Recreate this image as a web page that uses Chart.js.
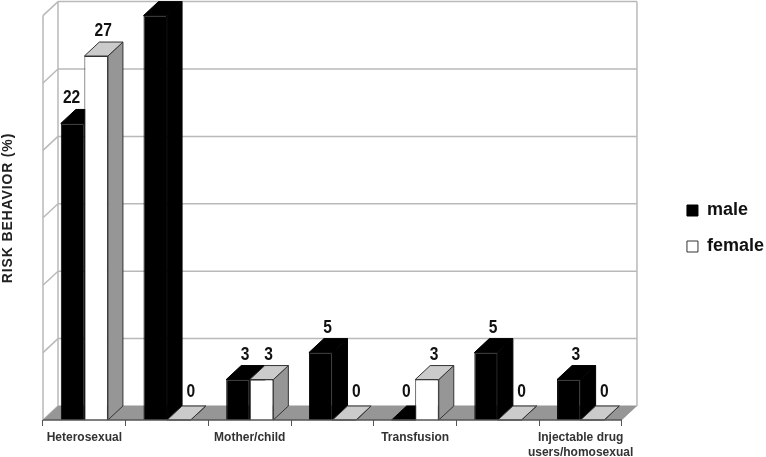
<!DOCTYPE html>
<html>
<head>
<meta charset="utf-8">
<title>Risk behavior</title>
<script src="https://cdn.jsdelivr.net/npm/chart.js@4/dist/chart.umd.min.js"></script>
<style>
  html, body { margin: 0; padding: 0; background: #fff; }
  canvas { display: block; }
</style>
</head>
<body>
<canvas id="myChart" width="766" height="457"></canvas>
<script>
// Values
var categories = ['Heterosexual', '', 'Mother/child', '', 'Transfusion', '', ['Injectable drug', 'users/homosexual']];
var male = [22, 30, 3, 5, 0, 5, 3];
var female = [27, 0, 3, 0, 3, 0, 0];
var yTicks = [0, 5, 10, 15, 20, 25, 30];
var yTitle = 'RISK BEHAVIOR (%)';

// Depth of the fake 3D box
var depthX = 15;
var depthY = 14;
var textFont = '"Liberation Sans", Arial, sans-serif';
var lineGrey = '#b9b9b9';
var sideGrey = '#969696';
var topGrey = '#cbcbcb';

function poly(ctx, pts, fill, stroke) {
    ctx.beginPath();
    ctx.moveTo(pts[0][0], pts[0][1]);
    for (var i = 1; i < pts.length; i++) ctx.lineTo(pts[i][0], pts[i][1]);
    ctx.closePath();
    ctx.fillStyle = fill;
    ctx.fill();
    if (stroke) {
        ctx.strokeStyle = stroke;
        ctx.lineWidth = 1;
        ctx.stroke();
    }
}

function line(ctx, x1, y1, x2, y2, color, width) {
    ctx.beginPath();
    ctx.moveTo(x1, y1);
    ctx.lineTo(x2, y2);
    ctx.strokeStyle = color;
    ctx.lineWidth = width;
    ctx.stroke();
}

// Walls, floor and the sides of the bars go under the bar fronts
var box3d = {
    id: 'box3d',
    afterLayout: function(chart) {
        // the x labels are clipped to the scale box, let the second line through
        chart.scales.x.bottom = chart.height;
    },
    beforeDatasetsDraw: function(chart) {
        var ctx = chart.ctx;
        var area = chart.chartArea;
        var y = chart.scales.y;
        ctx.save();
        yTicks.forEach(function(t) {
            var py = y.getPixelForValue(t);
            line(ctx, area.left + depthX, py - depthY, area.right + depthX, py - depthY, lineGrey, 1.5);
            line(ctx, area.left, py, area.left + depthX, py - depthY, lineGrey, 1.5);
        });
        line(ctx, area.left, area.top, area.left, area.bottom, lineGrey, 1.5);
        line(ctx, area.left + depthX, area.top - depthY, area.left + depthX, area.bottom - depthY, lineGrey, 1.5);
        line(ctx, area.right + depthX, area.top - depthY, area.right + depthX, area.bottom - depthY, lineGrey, 1.5);
        poly(ctx, [[area.left, area.bottom], [area.left + depthX, area.bottom - depthY],
            [area.right + depthX, area.bottom - depthY], [area.right, area.bottom]], sideGrey);

        chart.data.datasets.forEach(function(ds, i) {
            var isMale = i === 0;
            chart.getDatasetMeta(i).data.forEach(function(bar) {
                var l = bar.x - bar.width / 2;
                var r = bar.x + bar.width / 2;
                var top = bar.y;
                var base = bar.base;
                poly(ctx, [[r, top], [r + depthX, top - depthY], [r + depthX, base - depthY], [r, base]],
                    isMale ? '#000' : sideGrey, isMale ? '#000' : '#333');
                poly(ctx, [[l, top], [l + depthX, top - depthY], [r + depthX, top - depthY], [r, top]],
                    isMale ? '#000' : topGrey, isMale ? '#000' : '#333');
            });
        });
        ctx.restore();
    },
    afterDatasetsDraw: function(chart) {
        var ctx = chart.ctx;
        var area = chart.chartArea;
        ctx.save();
        line(ctx, area.left, area.bottom, area.right, area.bottom, '#555', 1.5);
        // value labels above each bar, narrowed to look like the original
        ctx.textAlign = 'center';
        ctx.textBaseline = 'alphabetic';
        ctx.fillStyle = '#111';
        ctx.font = 'bold 19px ' + textFont;
        chart.data.datasets.forEach(function(ds, i) {
            chart.getDatasetMeta(i).data.forEach(function(bar, j) {
                var v = ds.data[j];
                var dx = v === 0 ? 12 : 7;
                var dy = v === 0 ? 9 : 6;
                // a male label next to a taller female bar moves out of its way
                if (i === 0 && v < female[j]) {
                    dx = v === 0 ? 3 : -1;
                }
                ctx.save();
                ctx.translate(bar.x + dx, bar.y - depthY - dy);
                ctx.scale(0.82, 1);
                ctx.fillText(String(v), 0, 0);
                ctx.restore();
            });
        });
        // axis title
        ctx.translate(8, 208);
        ctx.rotate(-Math.PI / 2);
        ctx.textBaseline = 'middle';
        ctx.fillStyle = '#222';
        ctx.font = 'bold 14px ' + textFont;
        ctx.letterSpacing = '0.85px';
        ctx.fillText(yTitle, 0, 0);
        ctx.restore();
    }
};

var ctx = document.getElementById('myChart').getContext('2d');
var myChart = new Chart(ctx, {
    type: 'bar',
    data: {
        labels: categories,
        datasets: [
            { label: 'male', data: male, backgroundColor: '#000', borderColor: '#000', borderWidth: 1 },
            { label: 'female', data: female, backgroundColor: '#fff', borderColor: '#333', borderWidth: 1 }
        ]
    },
    options: {
        responsive: false,
        animation: false,
        layout: { padding: { top: 15.6, right: -8, left: 0, bottom: 15.6 } },
        datasets: { bar: { categoryPercentage: 0.57, barPercentage: 1 } },
        plugins: {
            tooltip: { enabled: false },
            legend: {
                position: 'right',
                labels: {
                    boxWidth: 11,
                    boxHeight: 11,
                    padding: 18,
                    color: '#111',
                    font: { family: textFont, size: 18, weight: 'bold' }
                }
            }
        },
        scales: {
            x: {
                grid: { offset: true, drawOnChartArea: false, tickLength: 6, tickColor: '#555', tickWidth: 1 },
                border: { display: false },
                ticks: {
                    autoSkip: false,
                    maxRotation: 0,
                    padding: 4,
                    color: '#333',
                    font: { family: textFont, size: 12, weight: 'bold', lineHeight: 1.25 }
                },
                afterFit: function(scale) { scale.height = 21.4; }
            },
            y: {
                min: 0,
                max: 30,
                grid: { display: false },
                border: { display: false },
                ticks: { display: false, stepSize: 5 },
                afterFit: function(scale) { scale.width = 43; }
            },
            // empty gutter between the plot and the legend, the box depth sits here
            gutter: {
                type: 'linear',
                position: 'right',
                grid: { display: false },
                border: { display: false },
                ticks: { display: false },
                afterFit: function(scale) { scale.width = 47; }
            }
        }
    },
    plugins: [box3d]
});
</script>
</body>
</html>
